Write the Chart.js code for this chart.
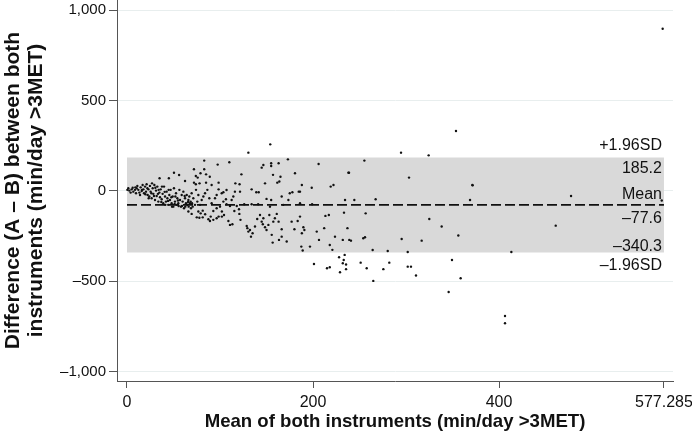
<!DOCTYPE html>
<html>
<head>
<meta charset="utf-8">
<script src="https://cdn.jsdelivr.net/npm/chart.js@4.4.1/dist/chart.umd.min.js"></script>
<style>
  body { margin: 0; background: #fff; }
  #wrap { width: 692px; height: 441px; }
</style>
</head>
<body>
<div id="wrap"><canvas id="bland"></canvas></div>
<script>
// mean of both instruments (x) and difference A - B (y)
var meanVals = [
  0.4, 2.5, 5, 6.8, 8.6, 10.4, 12.2, 13.3, 14.7, 15.8, 17.6, 18.3, 19.4, 20.4, 21.1, 22.2, 23, 24, 24.7, 25.4,
  26.5, 27.6, 28.3, 29.4, 30.1, 31.2, 31.9, 32.6, 33.7, 34.8, 35.5, 36.2, 37.3, 38.3, 39, 39.8, 40.9, 41.9, 42.6, 43.4,
  44.4, 45.5, 46.2, 46.9, 48, 49.1, 49.8, 50.5, 51.6, 52.7, 53.4, 54.1, 55.2, 56.3, 57, 58, 58.8, 59.8, 60.6, 61.3,
  62.4, 63.4, 64.2, 64.9, 66, 67, 67.7, 68.4, 69.5, 70.6, 71.3, 73.1, 74.2, 75.6, 76.7, 80.3, 82.1, 83.9, 86.4, 88.5,
  91, 94.6, 96.4, 101.8, 103.6, 106.4, 112.5, 114.3, 1.4, 3.9, 6.1, 9.7, 11.1, 14, 16.8, 21.9, 23.3, 26.9, 29, 30.5,
  33.3, 36.9, 40.5, 44.1, 47.7, 51.2, 54.8, 59.1, 62, 65.6, 9, 16.1, 19.7, 26.2, 34, 37.6, 41.2, 44.8, 48.4, 52,
  55.5, 62.7, 66.3, 69.9,
  154, 130.5, 83, 110, 97.5, 72, 50.5, 56, 35, 45, 83, 79, 85, 74, 76, 89, 62.4, 72, 74, 78,
  85, 91, 98.5, 98.5, 103.6, 107, 116.5, 121, 123, 116, 121.5, 134, 139, 141.6, 148.4, 146.6, 144.8, 155, 155, 163,
  173, 157, 165, 163.8, 161.6, 180.6, 206, 238, 188, 198.6, 184.6, 186, 175, 177.8, 166.3, 155, 150, 168, 173.5, 186,
  199, 222, 219, 234.4, 233.3, 213.3, 217, 186, 183.5, 189.6, 177, 180, 188, 190.7, 204, 212, 206.4, 223.6, 232, 237,
  239, 218, 220.8, 187.4, 196.7, 188.9, 171.7, 166.3, 163.4, 156.6, 166.3, 163, 155.6, 152, 157.3, 161, 159, 153, 146.6, 146,
  148.4, 150, 143, 144.8, 140, 137.6, 135, 133.3, 130.5, 129.4, 128.7, 132.2, 122, 120.8, 115.4, 113.3, 110.7, 109, 104.3, 102,
  98.5, 96.4, 92.8, 89.2, 87.5, 90, 81.4, 77.8, 75, 79.2, 76.7, 81.4, 84, 69.5, 66, 68.8, 92.8, 96.4, 100, 102,
  107, 110.7, 118, 120.4, 126, 134, 141, 153.7, 78.5,
  201, 215, 218, 228, 234, 233, 232, 235.5, 235.5, 229,
  244.4, 267.3, 371.3, 368.8, 477.4, 574.9, 256.6, 325, 338.3, 460.9, 240.8, 254, 255.9, 295.3, 316.8, 356.2, 264.1, 280.3, 301.8, 413.2,
  251.2, 257.7, 275.6, 282, 301.8, 305.3, 310.7, 349.4, 358.7, 264.8, 345.8, 406.4, 406.4,
  575.9, 353.7, 294.6, 324.3, 255.2, 238.7, 303.2, 371.6
];
var diffVals = [
  6, 2, 9, -4, 6, 15, 6, -9, 20, 0, 9, -13, 24, -4, 37, -22, 9, -31, 28, -4,
  -40, 15, -16, 33, -50, 2, -28, 24, -59, -9, -35, 9, -46, -16, -68, 24, -31, -59, -4, -40,
  -77, -22, -50, 6, -68, -31, -87, 15, -59, -13, -77, -40, -68, 6, -50, -87, -22, -59, -4, -96,
  -40, -68, -22, -77, -50, -31, -68, -59, -13, -87, -40, -77, 6, -59, -22, -50, -31, -13, 6, -40,
  -68, -40, -22, -13, -59, -46, -50, -31, 15, -9, 18, -13, 28, -22, 33, 15, -40, 42, -28, 18,
  -16, -61, -5, -55, -35, -72, -53, -83, -28, -61, 20, 6, -18, -13, 6, 24, -77, 6, -87, -31,
  -83, -87, -87, -68,
  258, 212, 168, 159, 146, 120, 101, 88, 70, 70, 120, 98, 92, 83, 74, 79, 55, 46, 37, 42,
  46, 33, 46, 9, -7, 5, 42, 37, 92, -4, -4, 9, -7, -7, 42, 144, 129, 153, 138, 153,
  175, 89, 79, 52, 46, 98, 149, 101, 33, 18, -4, -4, -13, -7, -31, -50, -44, -77, -50, -68,
  -74, 33, 24, -50, -120, -138, -133, -142, -166, -201, -170, -212, -234, -216, -225, -206, -271, -253, -271, -206,
  -271, -299, -326, -308, -308, -330, -280, -253, -271, -286, -212, -170, -243, -188, -170, -127, -151, -133, -151, -184,
  -201, -216, -133, -170, -155, -197, -234, -253, -225, -206, -194, -216, -160, -127, -111, -184, -188, -166, -133, -142,
  -142, -151, -160, -166, -157, -142, -146, -148, -146, -124, -114, -109, -129, -127, -114, -96, -111, -96, -87, -114,
  -74, -83, -83, -101, -74, -74, -74, -87, -77,
  -404, -428, -422, -367, -354, -382, -400, -407, -433, -450,
  -50, -46, 33, -50, -28, -53, -124, -155, -197, -192, -275, -262, -256, -266, -275, -247, -327, -332, -338, -338,
  -397, -428, -433, -397, -419, -419, -468, -382, -483, -498, -559, -692, -732,
  898, 332, 212, 197, 168, 101, 74, 31
];

// limits of agreement
var upperLimit = 185.2;
var meanDiff = -77.6;
var lowerLimit = -340.3;
var bandStart = 0;
var bandEnd = 577.285;

var xTicks = [0, 200, 400, 577.285];
var yTicks = [-1000, -500, 0, 500, 1000];

var fontFam = '"Liberation Sans", Arial, Helvetica, sans-serif';

var points = [];
for (var i = 0; i < meanVals.length; i++) {
  points.push({x: meanVals[i], y: diffVals[i]});
}

function fmt(v) {
  var s = Math.abs(v).toLocaleString('en-US', {maximumFractionDigits: 3});
  return v < 0 ? '\u2013' + s : s;
}

// text next to the limits lines, placed from the scales
var bandLabels = {
  id: 'bandLabels',
  afterDatasetsDraw: function(chart) {
    var ctx = chart.ctx;
    var x = chart.scales.x, y = chart.scales.y;
    var right = x.getPixelForValue(bandEnd) - 2;
    var yTop = y.getPixelForValue(upperLimit);
    var yMean = y.getPixelForValue(meanDiff);
    var yBot = y.getPixelForValue(lowerLimit);
    ctx.save();
    ctx.fillStyle = '#111';
    ctx.font = '16px ' + fontFam;
    ctx.textAlign = 'right';
    ctx.textBaseline = 'alphabetic';
    ctx.fillText('+1.96SD', right, yTop - 7);
    ctx.fillText(upperLimit.toFixed(1), right, yTop + 16);
    ctx.fillText('Mean', right, yMean - 6);
    ctx.fillText(fmt(meanDiff), right, yMean + 18);
    ctx.fillText(fmt(lowerLimit), right, yBot - 1);
    ctx.fillText('\u20131.96SD', right, yBot + 18);
    ctx.restore();
  }
};

var ctx = document.getElementById('bland').getContext('2d');
var chart = new Chart(ctx, {
  type: 'scatter',
  data: {
    datasets: [
      {
        label: 'differences',
        data: points,
        backgroundColor: '#111',
        borderWidth: 0,
        pointRadius: 1.2,
        order: 0
      },
      {
        type: 'line',
        label: 'mean',
        data: [{x: bandStart, y: meanDiff}, {x: bandEnd, y: meanDiff}],
        borderColor: '#111',
        borderWidth: 1.8,
        borderDash: [10, 4],
        pointRadius: 0,
        fill: false,
        order: 1
      },
      {
        type: 'line',
        label: 'upper',
        data: [{x: bandStart, y: upperLimit}, {x: bandEnd, y: upperLimit}],
        borderWidth: 0,
        borderColor: 'rgba(0,0,0,0)',
        backgroundColor: '#d9d9d9',
        pointRadius: 0,
        fill: '+1',
        order: 2
      },
      {
        type: 'line',
        label: 'lower',
        data: [{x: bandStart, y: lowerLimit}, {x: bandEnd, y: lowerLimit}],
        borderWidth: 0,
        borderColor: 'rgba(0,0,0,0)',
        pointRadius: 0,
        fill: false,
        order: 3
      }
    ]
  },
  options: {
    responsive: true,
    maintainAspectRatio: false,
    animation: false,
    layout: { padding: 0, autoPadding: false },
    plugins: {
      legend: { display: false },
      tooltip: { enabled: false }
    },
    scales: {
      x: {
        type: 'linear',
        min: -10.75,
        max: 587,
        afterBuildTicks: function(s) { s.ticks = xTicks.map(function(v) { return {value: v}; }); },
        afterFit: function(s) { s.height = 60; s.paddingLeft = 0; s.paddingRight = 19; },
        ticks: {
          color: '#111',
          font: { family: fontFam, size: 16 },
          padding: 5,
          maxRotation: 0,
          callback: function(v) { return fmt(v); }
        },
        grid: { drawOnChartArea: false, tickColor: '#555', tickLength: 7 },
        border: { color: '#555', width: 1 },
        title: {
          display: true,
          text: 'Mean of both instruments (min/day >3MET)',
          color: '#111',
          font: { family: fontFam, size: 18.6, weight: 'bold' },
          padding: { top: 0, bottom: 8 }
        }
      },
      y: {
        min: -1052,
        max: 1057,
        afterBuildTicks: function(s) { s.ticks = yTicks.map(function(v) { return {value: v}; }); },
        afterFit: function(s) { s.width = 117; s.paddingTop = 0; s.paddingBottom = 0; },
        ticks: {
          color: '#111',
          font: { family: fontFam, size: 15 },
          padding: 3,
          callback: function(v) { return fmt(v); }
        },
        grid: { color: '#e8eeee', lineWidth: 1, tickColor: '#555', tickLength: 8 },
        border: { color: '#555', width: 1 },
        title: {
          display: true,
          text: ['Difference (A \u2013 B) between both', 'instruments (min/day >3MET)'],
          color: '#111',
          font: { family: fontFam, size: 21, weight: 'bold', lineHeight: 1.1 },
          padding: { top: 2, bottom: 0 }
        }
      }
    }
  },
  plugins: [bandLabels]
});
</script>
</body>
</html>
